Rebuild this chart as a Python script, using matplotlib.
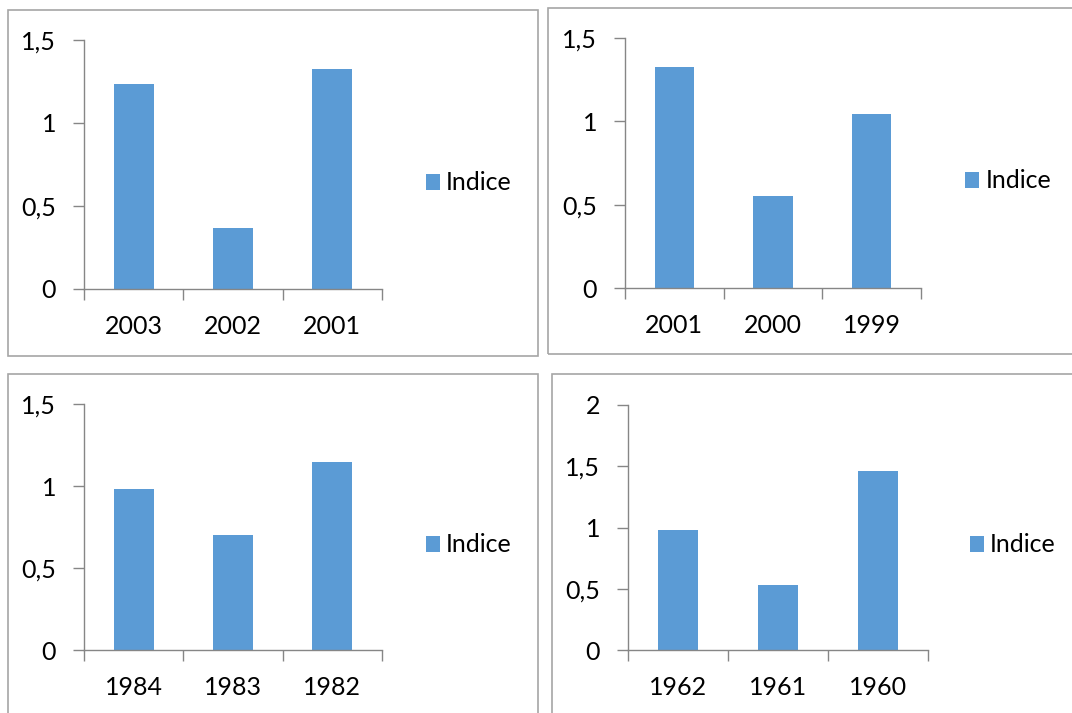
import matplotlib.pyplot as plt
from matplotlib.patches import Rectangle
from matplotlib.ticker import FuncFormatter

# chart data: one small list per panel
years_a = ["2003", "2002", "2001"]
indice_a = [1.236, 0.366, 1.326]
years_b = ["2001", "2000", "1999"]
indice_b = [1.326, 0.552, 1.044]
years_c = ["1984", "1983", "1982"]
indice_c = [0.98, 0.70, 1.146]
years_d = ["1962", "1961", "1960"]
indice_d = [0.98, 0.53, 1.46]

ymax = [1.5, 1.5, 1.5, 2.0]

BLUE = "#5B9BD5"
GRID = "#868686"
W, H = 1072, 713
FS = 18

plt.rcParams["font.family"] = ["Lato", "DejaVu Sans"]


def px(x0, y0, x1, y1):
    # pixel box (top-left origin) -> figure fraction rect
    return [x0 / W, 1 - y1 / H, (x1 - x0) / W, (y1 - y0) / H]


def comma(v, _pos):
    s = f"{v:g}"
    return s.replace(".", ",")


def draw_panel(fig, rect, labels, values, top, legend_xy):
    ax = fig.add_axes(rect)
    x = list(range(len(labels)))
    ax.bar(x, values, width=0.4, color=BLUE, label="Indice")
    ax.set_xlim(-0.5, len(labels) - 0.5)
    ax.set_ylim(0, top)
    ax.set_yticks([i * 0.5 for i in range(int(top / 0.5) + 1)])
    ax.yaxis.set_major_formatter(FuncFormatter(comma))

    ax.set_xticks([i - 0.5 for i in range(len(labels) + 1)])
    ax.set_xticklabels([])
    ax.set_xticks(x, minor=True)
    ax.set_xticklabels(labels, minor=True)

    for s in ("top", "right"):
        ax.spines[s].set_visible(False)
    for s in ("left", "bottom"):
        ax.spines[s].set_color(GRID)
        ax.spines[s].set_linewidth(1.0)
    ax.tick_params(axis="both", which="major", direction="out", length=8,
                   color=GRID, width=1.0, labelsize=FS)
    ax.tick_params(axis="y", pad=12)
    ax.tick_params(axis="x", which="minor", length=0, pad=19, labelsize=FS)

    ax.legend(loc="center left", bbox_to_anchor=legend_xy,
              bbox_transform=fig.transFigure, frameon=False,
              fontsize=FS, handlelength=0.56, handleheight=0.6,
              handletextpad=0.25, borderpad=0, borderaxespad=0)
    return ax


fig = plt.figure(figsize=(W / 100, H / 100), dpi=100)

# chart frames
for x0, y0, x1, y1 in [(8, 10, 538, 356), (548, 8, 1080, 354),
                       (8, 374, 538, 720), (552, 374, 1080, 720)]:
    fig.patches.append(Rectangle((x0 / W, 1 - y1 / H), (x1 - x0) / W, (y1 - y0) / H,
                                 transform=fig.transFigure, fill=False,
                                 edgecolor="#A6A6A6", linewidth=1.2))

draw_panel(fig, px(84, 40, 382, 289), years_a, indice_a, ymax[0], (426 / W, 1 - 183 / H))
draw_panel(fig, px(625, 38, 921, 288), years_b, indice_b, ymax[1], (965 / W, 1 - 181 / H))
draw_panel(fig, px(84, 404, 382, 650), years_c, indice_c, ymax[2], (426 / W, 1 - 545 / H))
draw_panel(fig, px(628, 405, 928, 650), years_d, indice_d, ymax[3], (970 / W, 1 - 545 / H))

fig.savefig("out.png", dpi=100)
